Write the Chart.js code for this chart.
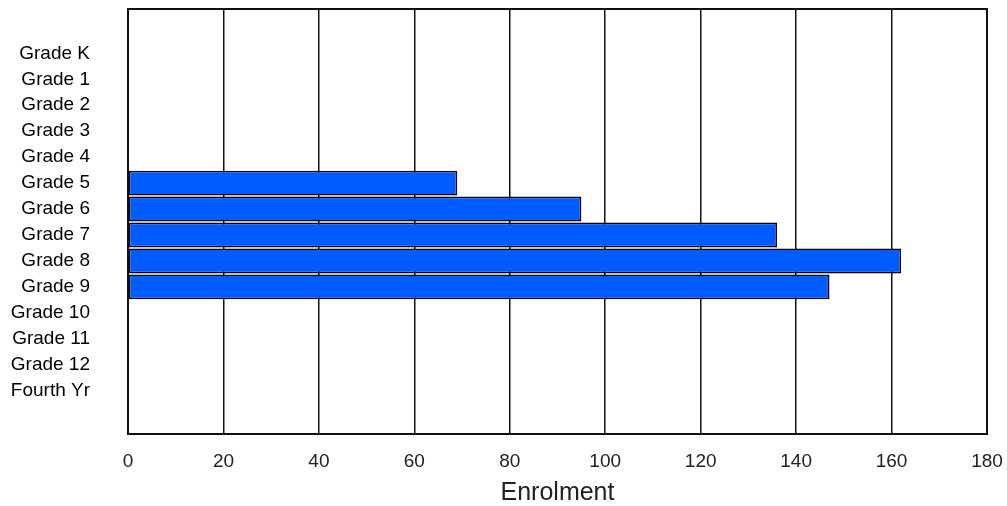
<!DOCTYPE html>
<html>
<head>
<meta charset="utf-8">
<script src="https://cdn.jsdelivr.net/npm/chart.js@4/dist/chart.umd.min.js"></script>
<style>
  html, body { margin: 0; padding: 0; background: #fff; }
  #wrap { width: 1007px; height: 506px; position: relative; }
</style>
</head>
<body>
<div id="wrap"><canvas id="enrolment-chart"></canvas></div>
<script>
// Chart data
const categories = ['Grade K', 'Grade 1', 'Grade 2', 'Grade 3', 'Grade 4', 'Grade 5', 'Grade 6',
    'Grade 7', 'Grade 8', 'Grade 9', 'Grade 10', 'Grade 11', 'Grade 12', 'Fourth Yr'];
const enrolment = [null, null, null, null, null, 69, 95, 136, 162, 147, null, null, null, null];
const xTicks = [0, 20, 40, 60, 80, 100, 120, 140, 160, 180];

const fontFamily = "'Liberation Sans', Arial, sans-serif";

// Draws the box round the plot area
const plotFrame = {
    id: 'plotFrame',
    afterDraw(chart) {
        const { ctx, chartArea } = chart;
        ctx.save();
        ctx.strokeStyle = '#111';
        ctx.lineWidth = 2;
        ctx.strokeRect(chartArea.left, chartArea.top, chartArea.right - chartArea.left, chartArea.bottom - chartArea.top);
        ctx.restore();
    }
};

document.addEventListener('DOMContentLoaded', function() {
    initializeEnrolmentChart();
});

function initializeEnrolmentChart() {
    const canvas = document.getElementById('enrolment-chart');
    if (!canvas) return;

    new Chart(canvas, {
        type: 'bar',
        data: {
            datasets: [{
                label: 'Enrolment',
                data: categories.map((c, i) => ({ x: enrolment[i], y: i })),
                backgroundColor: '#005CFF',
                borderColor: '#000',
                borderWidth: 1.6,
                borderSkipped: false,
                categoryPercentage: 1,
                barPercentage: 0.96
            }]
        },
        plugins: [plotFrame],
        options: {
            indexAxis: 'y',
            responsive: true,
            maintainAspectRatio: false,
            animation: false,
            layout: { padding: { top: 9, right: 20, bottom: 0, left: 0 } },
            plugins: {
                legend: { display: false },
                tooltip: { enabled: false }
            },
            scales: {
                x: {
                    type: 'linear',
                    min: 0,
                    max: 180,
                    afterBuildTicks: (scale) => { scale.ticks = xTicks.map(v => ({ value: v })); },
                    afterFit: (scale) => {
                        scale.height = 72;
                        scale.paddingLeft = 0;
                        scale.paddingRight = 0;
                    },
                    grid: { color: '#111', lineWidth: 1.5, drawTicks: false },
                    border: { display: true, color: '#111', width: 2 },
                    ticks: {
                        color: '#222',
                        padding: 16,
                        maxRotation: 0,
                        font: { family: fontFamily, size: 19 }
                    },
                    title: {
                        display: true,
                        text: 'Enrolment',
                        color: '#222',
                        padding: { top: 0, bottom: 0 },
                        font: { family: fontFamily, size: 25, lineHeight: 1.05 }
                    }
                },
                y: {
                    type: 'linear',
                    reverse: true,
                    offset: false,
                    min: -1.71,
                    max: 14.67,
                    afterBuildTicks: (scale) => { scale.ticks = categories.map((c, i) => ({ value: i })); },
                    afterFit: (scale) => {
                        scale.width = 128;
                        scale.paddingTop = 0;
                        scale.paddingBottom = 0;
                    },
                    grid: { display: false, drawTicks: false },
                    border: { display: true, color: '#111', width: 2 },
                    ticks: {
                        color: '#000',
                        padding: 38,
                        autoSkip: false,
                        callback: (value) => categories[value],
                        font: { family: fontFamily, size: 19 }
                    }
                }
            }
        }
    });
}
</script>
</body>
</html>
